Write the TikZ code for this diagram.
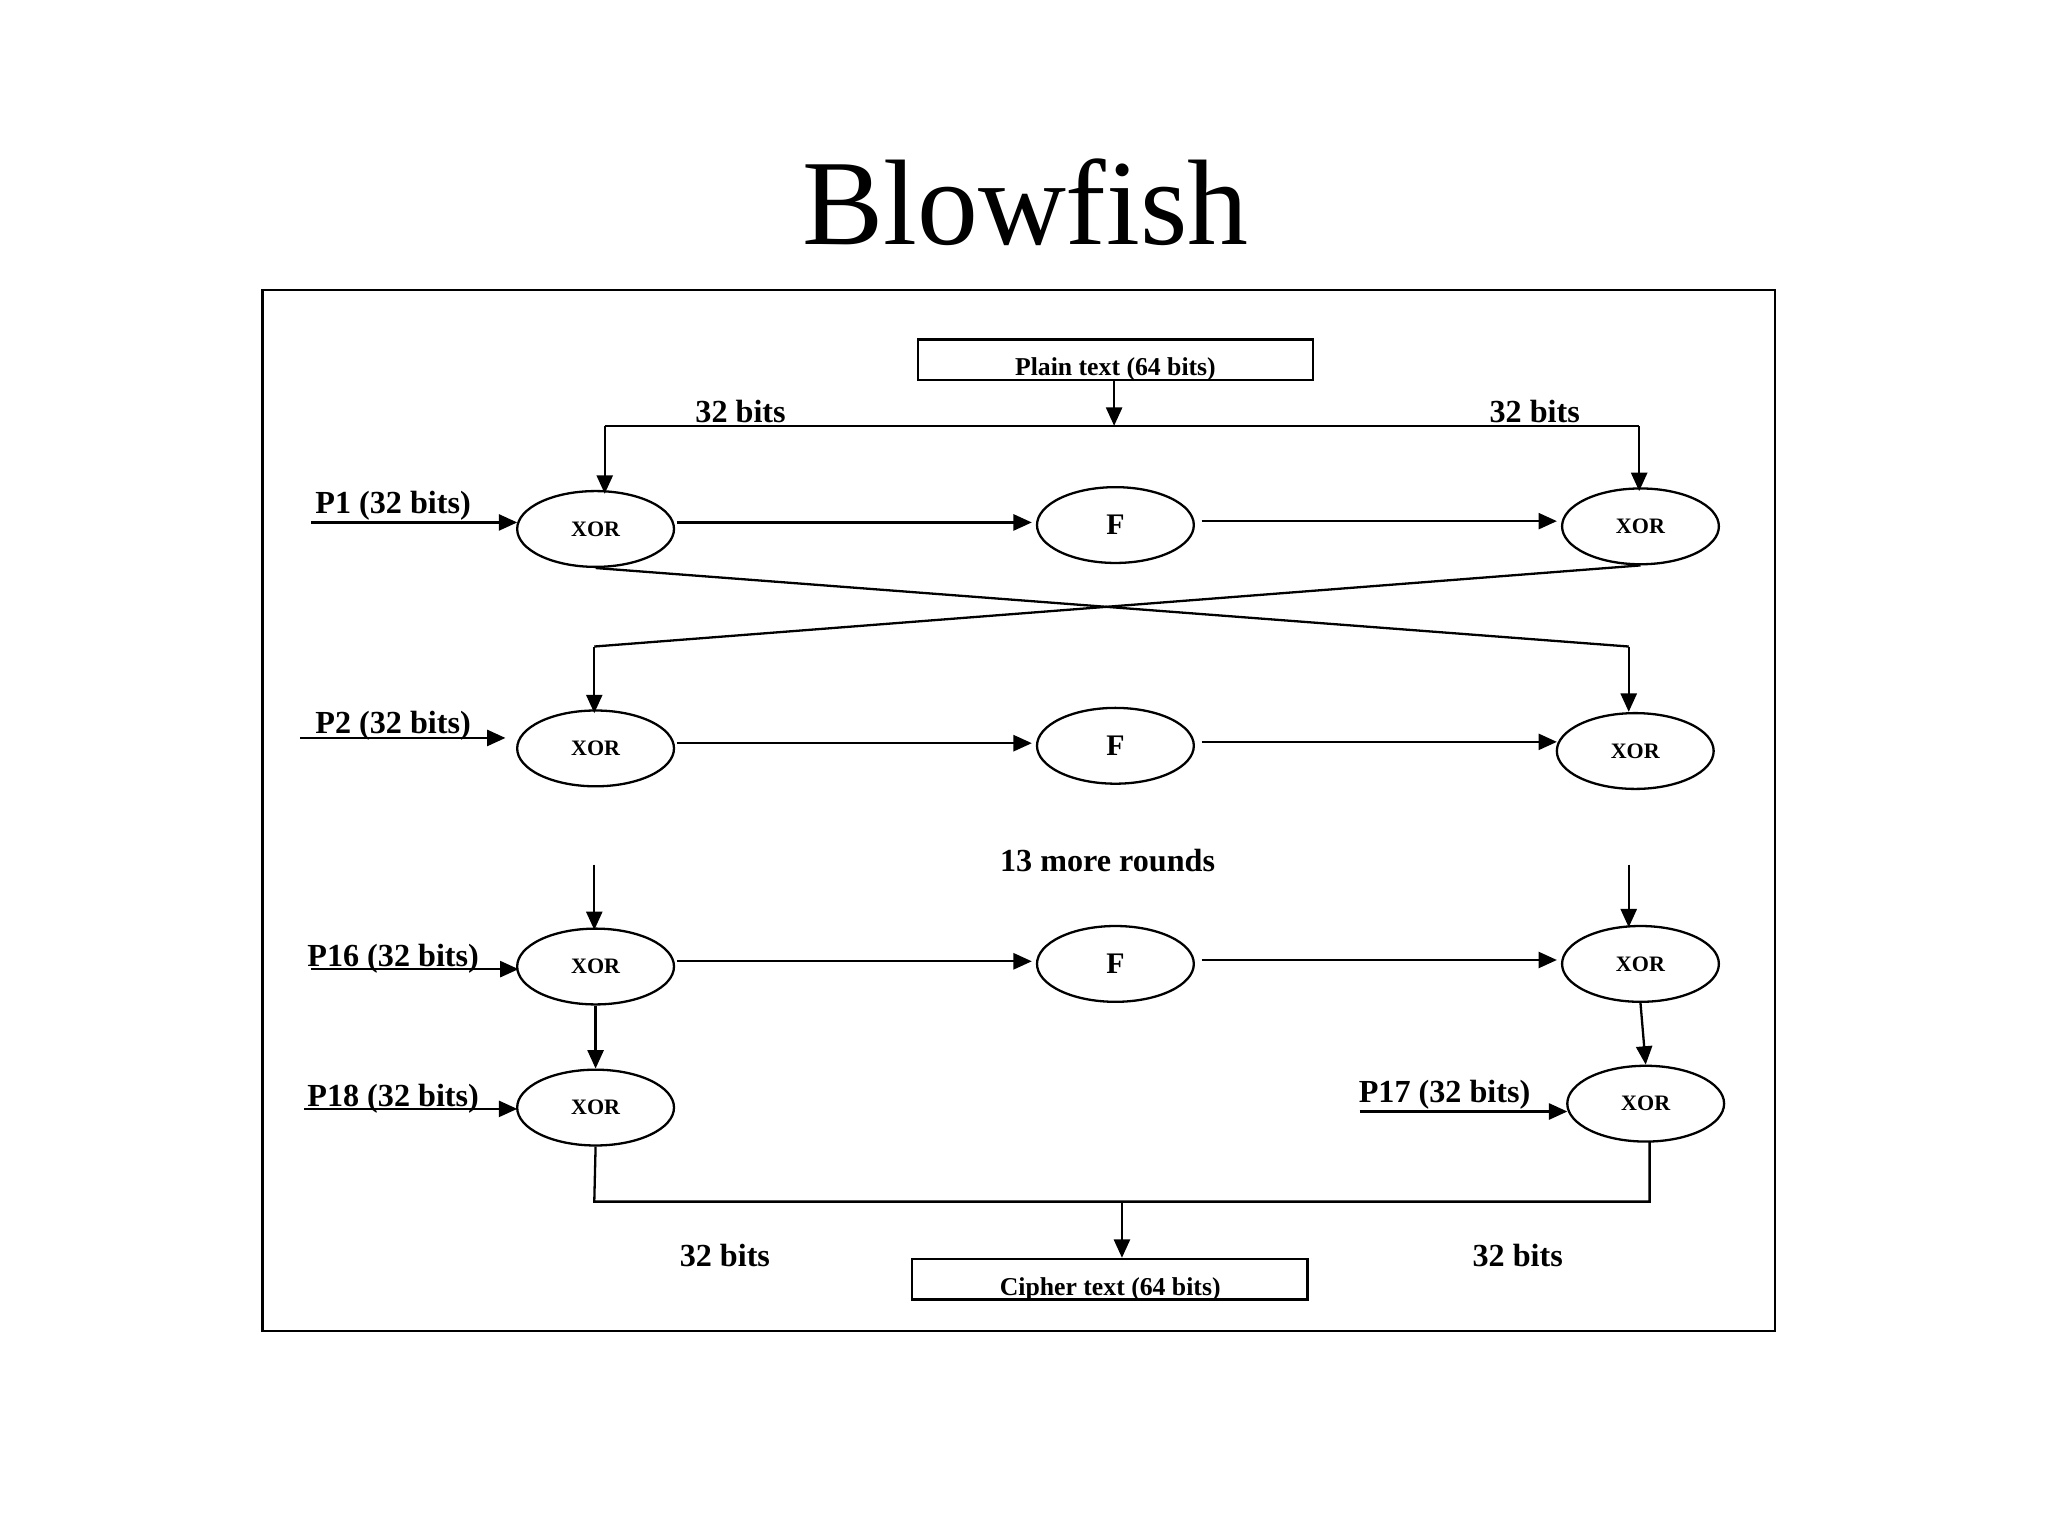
\documentclass[tikz,border=0pt]{standalone}
\usepackage{fontspec}
\setmainfont{Liberation Serif}
\usetikzlibrary{shapes.geometric,arrows.meta}
\begin{document}
\begin{tikzpicture}[x=0.01cm,y=-0.01cm,
  el/.style={draw,ellipse,minimum width=1.2cm,minimum height=0.58cm,inner sep=0,line width=0.5pt},
  xr/.style={el,font=\bfseries\fontsize{4.8pt}{5pt}\selectfont},
  ff/.style={el,font=\bfseries\fontsize{6.5pt}{7pt}\selectfont},
  lb/.style={font=\bfseries\fontsize{7pt}{8pt}\selectfont,inner sep=0},
  bx/.style={font=\bfseries\fontsize{5.6pt}{6pt}\selectfont,inner sep=0},
  ar/.style={-{Triangle[length=4pt,width=3.5pt]},line width=0.5pt},
  ln/.style={line width=0.5pt}]
\useasboundingbox (0,0) rectangle (1568,1176);
\node[font=\fontsize{26.5pt}{30pt}\selectfont] (title) at (785,155) {Blowfish};
\draw[ln] (201,222) rectangle (1359,1019);
\draw[ln] (703,260) rectangle (1005,291);
\node[bx] (pt) at (854,283) {Plain text (64 bits)};
\draw[ln] (698,964) rectangle (1001,995);
\node[bx] (ct) at (850,987) {Cipher text (64 bits)};
\coordinate (pb) at (853,291);
\coordinate (tm) at (853,326);
\coordinate (tl) at (463,326);
\coordinate (tr) at (1255,326);
\node[lb] at (567,315) {32 bits};
\node[lb] at (1175,315) {32 bits};
\node[lb] at (555,961) {32 bits};
\node[lb] at (1162,961) {32 bits};
\node[lb] at (848,659) {13 more rounds};
% ellipses
\node[xr] (x1l) at (456,405) {XOR};
\node[ff] (f1) at (854,402) {F};
\node[xr] (x1r) at (1256,403) {XOR};
\node[xr] (x2l) at (456,573) {XOR};
\node[ff] (f2) at (854,571) {F};
\node[xr] (x2r) at (1252,575) {XOR};
\node[xr] (x3l) at (456,740) {XOR};
\node[ff] (f3) at (854,738) {F};
\node[xr] (x3r) at (1256,738) {XOR};
\node[xr] (x4l) at (456,848) {XOR};
\node[xr] (x4r) at (1260,845) {XOR};
% top
\draw[ar] (pb) -- (tm);
\draw[ln] (tl) -- (tr);
\draw[ar] (tl) -- (463,378);
\draw[ar] (tr) -- (1255,376);
% P labels
\node[lb] at (301,387) {P1 (32 bits)};
\node[lb] at (301,556) {P2 (32 bits)};
\node[lb] at (301,734) {P16 (32 bits)};
\node[lb] at (301,841) {P18 (32 bits)};
\node[lb] at (1106,838) {P17 (32 bits)};
\coordinate (p1) at (238,400); \draw[ar] (p1) -- (396,400);
\coordinate (p2) at (230,565); \draw[ar] (p2) -- (387,565);
\coordinate (p16) at (238,742); \draw[ar] (p16) -- (397,742);
\coordinate (p18) at (233,849); \draw[ar] (p18) -- (396,849);
\coordinate (p17) at (1041,851); \draw[ar] (p17) -- (1200,851);
% horizontal
\draw[ar] (518,400) -- (790,400);
\draw[ar] (920,399) -- (1192,399);
\draw[ar] (518,569) -- (790,569);
\draw[ar] (920,568) -- (1192,568);
\draw[ar] (518,736) -- (790,736);
\draw[ar] (920,735) -- (1192,735);
% crossing
\draw[ln] (x1l.south) -- (1247,495);
\draw[ar] (1247,495) -- (1247,545);
\draw[ln] (x1r.south) -- (455,495);
\draw[ar] (455,495) -- (455,546);
% rounds
\draw[ar] (455,662) -- (455,712);
\draw[ar] (1247,662) -- (1247,710);
\draw[ar] (x3l.south) -- (x4l.north);
\draw[ar] (x3r.south) -- (x4r.north);
% bottom
\draw[ln] (x4l.south) -- (455,920) -- (1263,920) -- (1263,874);
\draw[ar] (859,920) -- (859,963);
\end{tikzpicture}
\end{document}
